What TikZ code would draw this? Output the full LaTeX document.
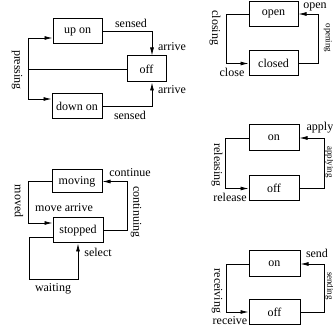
\documentclass[tikz,border=0pt]{standalone}
\usepackage{fontspec}
\setmainfont{Liberation Serif}
\usetikzlibrary{arrows.meta}

\begin{document}
\begin{tikzpicture}[x=1pt,y=-1pt,line width=0.8pt,
    state/.style={draw,line width=1pt,minimum width=50pt,minimum height=25pt,inner sep=0pt,
        font=\fontsize{12}{14}\selectfont},
    arr/.style={-{Latex[length=8pt,width=4pt]}},
    lbl/.style={inner sep=0pt,font=\fontsize{12}{14}\selectfont},
    vlbl/.style={lbl,rotate=-90},
    edgelbl/.style={inner sep=0pt,rotate=-90,font=\fontsize{9}{10}\selectfont}]
    \useasboundingbox (0,0) rectangle (333,329);

    % Buttons: up on / down on / off
    \node[state,minimum width=49pt] (upon) at (77.5,31.5) {up on};
    \node[state] (downon) at (77,106) {down on};
    \node[state,minimum width=39pt,minimum height=26pt] (offA) at (146.5,69) {off};
    \coordinate (prtop) at (28,38);
    \coordinate (prbot) at (28,99);
    \draw (prtop) -- (prbot);
    \draw[arr] (prtop) -- (prtop -| upon.west);
    \draw[arr] (prbot) -- (prbot -| downon.west);
    \draw (prtop |- offA.west) -- (offA.west);
    \draw[arr] (upon.east) -| ([xshift=5.5pt]offA.north);
    \draw[arr] (downon.east) -| ([xshift=5.5pt]offA.south);
    \node[vlbl] (press) at (17,70) {pressing};
    \node[lbl] (sensA) at (131,23) {sensed};
    \node[lbl] (arrA) at (172,47) {arrive};
    \node[lbl] (arrB) at (172,90) {arrive};
    \node[lbl] (sensB) at (130,115) {sensed};

    % Door: open / closed
    \node[state,minimum width=49pt] (open) at (273.5,14) {open};
    \node[state,minimum width=49pt] (closed) at (273.5,63.5) {closed};
    \coordinate (clx) at (226,14);
    \coordinate (opx) at (318,63);
    \draw[arr] (open.west) -- (clx) |- (closed.west);
    \draw[arr] (closed.east) -- (closed.east -| opx) |- (open.east);
    \node[vlbl] (closing) at (215,28) {closing};
    \node[lbl] (close) at (232,72) {close};
    \node[lbl] (openl) at (315,6.5) {open};
    \node[edgelbl] (opening) at (328,38) {opening};

    % Brake: on / off
    \node[state,minimum height=26pt] (onB) at (274,138) {on};
    \node[state] (offB) at (274,188.5) {off};
    \coordinate (rlx) at (225,138);
    \coordinate (apx) at (324,188);
    \draw[arr] (onB.west) -- (rlx) |- (offB.west);
    \draw[arr] (offB.east) -- (offB.east -| apx) |- (onB.east);
    \node[vlbl] (releasing) at (217,165) {releasing};
    \node[lbl] (release) at (230,197) {release};
    \node[lbl] (apply) at (320,128) {apply};
    \node[edgelbl] (applying) at (329.5,162) {applying};

    % Message: on / off
    \node[state,minimum width=51pt,minimum height=26pt] (onC) at (274.5,264) {on};
    \node[state,minimum width=51pt] (offC) at (274.5,312) {off};
    \coordinate (rcx) at (226,264);
    \coordinate (sdx) at (324,312);
    \draw[arr] (onC.west) -- (rcx) |- (offC.west);
    \draw[arr] (offC.east) -- (offC.east -| sdx) |- (onC.east);
    \node[vlbl] (receiving) at (217,291) {receiving};
    \node[lbl] (receive) at (230,321) {receive};
    \node[lbl] (send) at (317,253) {send};
    \node[edgelbl] (sending) at (329.5,286) {sending};

    % Robot: moving / stopped
    \node[state,minimum height=23pt] (moving) at (77,181.5) {moving};
    \node[state] (stopped) at (78,230.5) {stopped};
    \coordinate (mvtop) at (28,181.5);
    \coordinate (mvbot) at (28,223);
    \coordinate (ctx) at (127,181.5);
    \draw[arr] (moving.west) -- (mvtop) -- (mvbot) -- (mvbot -| stopped.west);
    \draw[arr] (stopped.east) -- (stopped.east -| ctx) |- (moving.east);
    \coordinate (wta) at (29,237);
    \coordinate (wtb) at (29,279);
    \coordinate (wtc) at (78,279);
    \draw[arr] (wta -| stopped.west) -- (wta) -- (wtb) -- (wtc) -- (wtc |- stopped.south);
    \node[vlbl] (moved) at (19,201) {moved};
    \node[lbl] (movearr) at (64,208) {move arrive};
    \node[lbl] (continue) at (130,173) {continue};
    \node[vlbl] (continuing) at (136,212) {continuing};
    \node[lbl] (waiting) at (53,289) {waiting};
    \node[lbl] (select) at (98,252) {select};
\end{tikzpicture}
\end{document}
